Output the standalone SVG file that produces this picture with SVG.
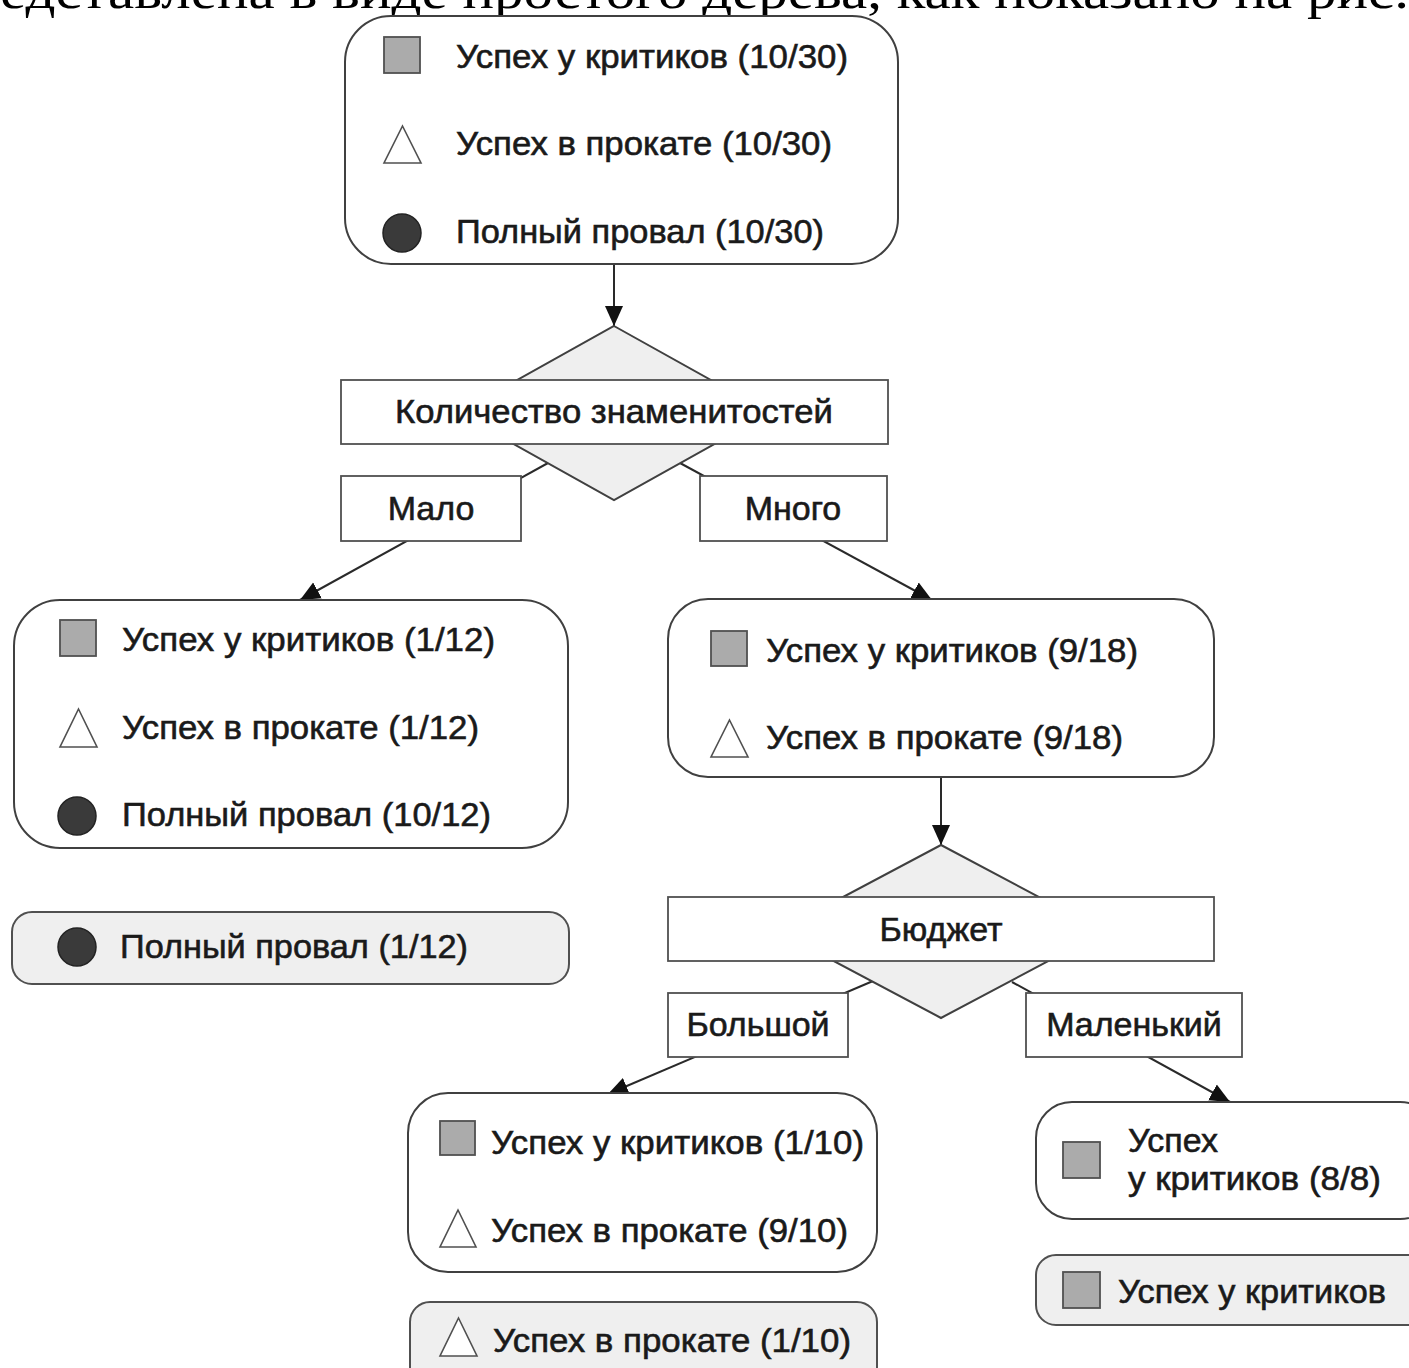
<svg xmlns="http://www.w3.org/2000/svg" width="1409" height="1368" viewBox="0 0 1409 1368">
<style>
.node{fill:#ffffff;stroke:#404040;stroke-width:2}
.leaf{fill:#efefef;stroke:#505050;stroke-width:2}
.lbl{fill:#ffffff;stroke:#505050;stroke-width:1.8}
.dia{fill:#efefef;stroke:#404040;stroke-width:2}
.t{font-family:"Liberation Sans",Arial,sans-serif;font-size:34px;fill:#1a1a1a;stroke:#1a1a1a;stroke-width:0.6}
.c{text-anchor:middle}
.sq{fill:#ababab;stroke:#505050;stroke-width:1.8}
.tri{fill:#ffffff;stroke:#505050;stroke-width:1.6}
.dot{fill:#3a3a3a;stroke:#222222;stroke-width:1.5}
.con{stroke:#2a2a2a;stroke-width:2;fill:none}
</style>
<defs>
<marker id="arr" markerUnits="userSpaceOnUse" markerWidth="22" markerHeight="20" refX="20" refY="9" orient="auto" viewBox="0 0 22 18">
<path d="M0,0 L20,9 L0,18 z" fill="#111111"/>
</marker>
</defs>
<rect width="1409" height="1368" fill="#ffffff"/>
<text x="0" y="8" font-family="'Liberation Serif',serif" font-size="50" fill="#000" textLength="1409" lengthAdjust="spacingAndGlyphs">едставлена в виде простого дерева, как показано на рис.</text>

<g id="connectors">
<line class="con" x1="614" y1="264" x2="614" y2="326" marker-end="url(#arr)"/>
<line class="con" x1="548" y1="463" x2="300" y2="600" marker-end="url(#arr)"/>
<line class="con" x1="680" y1="463" x2="932" y2="600" marker-end="url(#arr)"/>
<line class="con" x1="941" y1="777" x2="941" y2="845" marker-end="url(#arr)"/>
<line class="con" x1="873" y1="981" x2="608" y2="1094" marker-end="url(#arr)"/>
<line class="con" x1="1012" y1="982" x2="1230" y2="1102" marker-end="url(#arr)"/>
</g>

<g id="root">
<rect class="node" x="345" y="16" width="553" height="248" rx="46"/>
<rect class="sq" x="384" y="37" width="36" height="36"/>
<text class="t" x="456" y="68" textLength="392" lengthAdjust="spacingAndGlyphs">Успех у критиков (10/30)</text>
<polygon class="tri" points="402.5,126 421,163 384,163"/>
<text class="t" x="456" y="155" textLength="376" lengthAdjust="spacingAndGlyphs">Успех в прокате (10/30)</text>
<circle class="dot" cx="402" cy="233" r="19"/>
<text class="t" x="456" y="243" textLength="368" lengthAdjust="spacingAndGlyphs">Полный провал (10/30)</text>
</g>

<g id="decision-celebs">
<polygon class="dia" points="614,326 770,413 614,500 458,413"/>
<rect class="lbl" x="341" y="380" width="547" height="64"/>
<text class="t c" x="614" y="423" textLength="438" lengthAdjust="spacingAndGlyphs">Количество знаменитостей</text>
</g>

<g id="label-malo">
<rect class="lbl" x="341" y="476" width="180" height="65"/>
<text class="t c" x="431" y="520">Мало</text>
</g>

<g id="label-mnogo">
<rect class="lbl" x="700" y="476" width="187" height="65"/>
<text class="t c" x="793" y="520">Много</text>
</g>

<g id="node-few">
<rect class="node" x="14" y="600" width="554" height="248" rx="46"/>
<rect class="sq" x="60" y="620" width="36" height="36"/>
<text class="t" x="122" y="651" textLength="373" lengthAdjust="spacingAndGlyphs">Успех у критиков (1/12)</text>
<polygon class="tri" points="78.5,709 97,747 60,747"/>
<text class="t" x="122" y="739" textLength="357" lengthAdjust="spacingAndGlyphs">Успех в прокате (1/12)</text>
<circle class="dot" cx="77" cy="816" r="19"/>
<text class="t" x="122" y="826" textLength="369" lengthAdjust="spacingAndGlyphs">Полный провал (10/12)</text>
</g>

<g id="leaf-fail">
<rect class="leaf" x="12" y="912" width="557" height="72" rx="20"/>
<circle class="dot" cx="77" cy="947" r="19"/>
<text class="t" x="120" y="958" textLength="348" lengthAdjust="spacingAndGlyphs">Полный провал (1/12)</text>
</g>

<g id="node-many">
<rect class="node" x="668" y="599" width="546" height="178" rx="40"/>
<rect class="sq" x="711" y="631" width="36" height="35"/>
<text class="t" x="766" y="662" textLength="372" lengthAdjust="spacingAndGlyphs">Успех у критиков (9/18)</text>
<polygon class="tri" points="729.5,720 748,757 711,757"/>
<text class="t" x="766" y="749" textLength="357" lengthAdjust="spacingAndGlyphs">Успех в прокате (9/18)</text>
</g>

<g id="decision-budget">
<polygon class="dia" points="941,845 1104,931.5 941,1018 778,931.5"/>
<rect class="lbl" x="668" y="897" width="546" height="64"/>
<text class="t c" x="941" y="941">Бюджет</text>
</g>

<g id="label-big">
<rect class="lbl" x="668" y="993" width="180" height="64"/>
<text class="t c" x="758" y="1036">Большой</text>
</g>

<g id="label-small">
<rect class="lbl" x="1026" y="993" width="216" height="64"/>
<text class="t c" x="1134" y="1036">Маленький</text>
</g>

<g id="node-big">
<rect class="node" x="408" y="1093" width="469" height="179" rx="40"/>
<rect class="sq" x="440" y="1121" width="35" height="34"/>
<text class="t" x="491" y="1154" textLength="373" lengthAdjust="spacingAndGlyphs">Успех у критиков (1/10)</text>
<polygon class="tri" points="458,1210 476,1247 440,1247"/>
<text class="t" x="491" y="1242" textLength="357" lengthAdjust="spacingAndGlyphs">Успех в прокате (9/10)</text>
</g>

<g id="leaf-box">
<rect class="leaf" x="410" y="1302" width="467" height="90" rx="20"/>
<polygon class="tri" points="458.5,1318 477,1356 440,1356"/>
<text class="t" x="493" y="1352" textLength="358" lengthAdjust="spacingAndGlyphs">Успех в прокате (1/10)</text>
</g>

<g id="node-small">
<rect class="node" x="1036" y="1102" width="400" height="117" rx="36"/>
<rect class="sq" x="1063" y="1142" width="37" height="36"/>
<text class="t" x="1128" y="1152">Успех</text>
<text class="t" x="1128" y="1190" textLength="253" lengthAdjust="spacingAndGlyphs">у критиков (8/8)</text>
</g>

<g id="leaf-critics">
<rect class="leaf" x="1036" y="1255" width="400" height="70" rx="20"/>
<rect class="sq" x="1063" y="1272" width="37" height="36"/>
<text class="t" x="1118" y="1303" textLength="268" lengthAdjust="spacingAndGlyphs">Успех у критиков</text>
</g>
</svg>
